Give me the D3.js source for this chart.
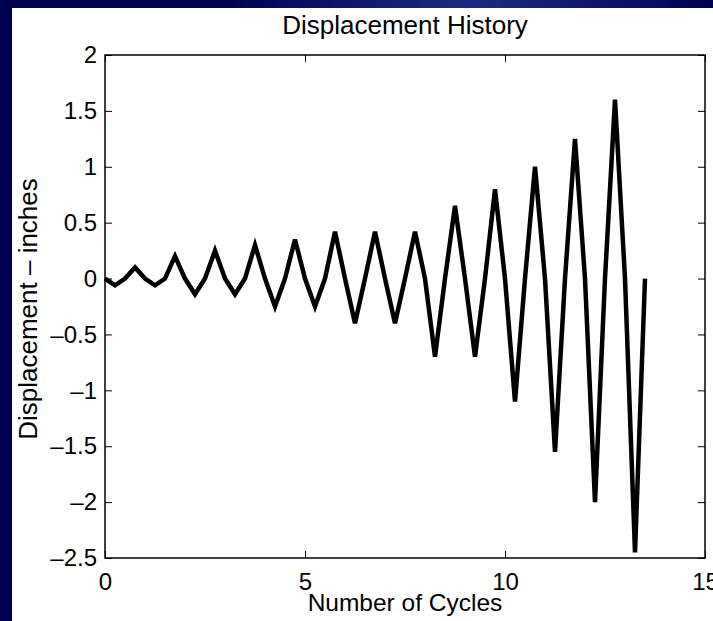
<!DOCTYPE html>
<html>
<head>
<meta charset="utf-8">
<script src="https://cdn.jsdelivr.net/npm/d3@7"></script>
<style>
  body { margin: 0; background: #000050; }
  svg text { font-family: "Liberation Sans", Arial, Helvetica, sans-serif; fill: #000; }
</style>
</head>
<body>
<svg id="chart" width="713" height="621"></svg>
<script>
// data: every quarter cycle
const cycles = [0, 0.25, 0.5, 0.75, 1, 1.25, 1.5, 1.75, 2, 2.25, 2.5, 2.75, 3, 3.25, 3.5, 3.75,
  4, 4.25, 4.5, 4.75, 5, 5.25, 5.5, 5.75, 6, 6.25, 6.5, 6.75, 7, 7.25, 7.5, 7.75,
  8, 8.25, 8.5, 8.75, 9, 9.25, 9.5, 9.75, 10, 10.25, 10.5, 10.75, 11, 11.25, 11.5, 11.75,
  12, 12.25, 12.5, 12.75, 13, 13.25, 13.5]

const displacement = [0, -0.06, 0, 0.1, 0, -0.06, 0, 0.2, 0, -0.14, 0, 0.25, 0, -0.14, 0, 0.3,
  0, -0.25, 0, 0.35, 0, -0.25, 0, 0.42, 0, -0.4, 0, 0.42, 0, -0.4, 0, 0.42,
  0, -0.7, 0, 0.65, 0, -0.7, 0, 0.8, 0, -1.1, 0, 1.0, 0, -1.55, 0, 1.25,
  0, -2.0, 0, 1.6, 0, -2.45, 0]

const xTicks = [0, 5, 10, 15]
const yTicks = [2, 1.5, 1, 0.5, 0, -0.5, -1, -1.5, -2, -2.5]

const svg = d3.select("#chart")

// achtergrond (navy met een beetje glans bovenaan)
const defs = svg.append("defs")
const glow = defs.append("radialGradient").attr("id", "glow")
  .attr("cx", 0.66).attr("cy", 0).attr("r", 0.35)
glow.append("stop").attr("offset", "0%").attr("stop-color", "#1c2c86")
glow.append("stop").attr("offset", "100%").attr("stop-color", "#000050")

svg.append("rect").attr("width", 713).attr("height", 621).attr("fill", "url(#glow)")
svg.append("rect").attr("x", 12).attr("y", 8).attr("width", 701).attr("height", 613).attr("fill", "#fff")

const plotLeft = 105, plotRight = 705, plotTop = 55, plotBottom = 558

const xScale = d3.scaleLinear().domain([0, 15]).range([plotLeft, plotRight])
const yScale = d3.scaleLinear().domain([-2.5, 2]).range([plotBottom, plotTop])

const fmt = (d) => (d < 0 ? "\u2013" : "") + Math.abs(d)

// assen, ticks naar binnen zoals in matlab
const axisLeft = d3.axisLeft(yScale).tickValues(yTicks).tickSizeInner(-7).tickSizeOuter(0)
  .tickPadding(8).tickFormat(fmt)
const axisBottom = d3.axisBottom(xScale).tickValues(xTicks).tickSizeInner(-7).tickSizeOuter(0)
  .tickPadding(15).tickFormat(fmt)
const axisRight = d3.axisRight(yScale).tickValues(yTicks).tickSizeInner(-7).tickSizeOuter(0)
  .tickFormat("")
const axisTop = d3.axisTop(xScale).tickValues(xTicks).tickSizeInner(-7).tickSizeOuter(0)
  .tickFormat("")

function styleAxis(g) {
  g.attr("font-family", null).attr("font-size", 24)
  g.select(".domain").remove()
  g.selectAll(".tick line").attr("stroke", "#000").attr("stroke-width", 1)
}

svg.append("g").attr("transform", `translate(${plotLeft},0)`).call(axisLeft).call(styleAxis)
svg.append("g").attr("transform", `translate(0,${plotBottom})`).call(axisBottom).call(styleAxis)
svg.append("g").attr("transform", `translate(${plotRight},0)`).call(axisRight).call(styleAxis)
svg.append("g").attr("transform", `translate(0,${plotTop})`).call(axisTop).call(styleAxis)

// kader
svg.append("rect")
  .attr("x", plotLeft).attr("y", plotTop)
  .attr("width", plotRight - plotLeft).attr("height", plotBottom - plotTop)
  .attr("fill", "none").attr("stroke", "#000").attr("stroke-width", 1.5)

// de lijn
const line = d3.line()
  .x((d, i) => xScale(cycles[i]))
  .y((d) => yScale(d))

svg.append("path")
  .datum(displacement)
  .attr("d", line)
  .attr("fill", "none")
  .attr("stroke", "#000")
  .attr("stroke-width", 4.5)
  .attr("stroke-linejoin", "miter")
  .attr("stroke-miterlimit", 4)

// titels
svg.append("text")
  .attr("x", (plotLeft + plotRight) / 2).attr("y", 34)
  .attr("text-anchor", "middle").attr("font-size", 26)
  .text("Displacement History")

svg.append("text")
  .attr("x", (plotLeft + plotRight) / 2).attr("y", 611)
  .attr("text-anchor", "middle").attr("font-size", 24.5)
  .text("Number of Cycles")

svg.append("text")
  .attr("transform", "translate(37,309) rotate(-90)")
  .attr("text-anchor", "middle").attr("font-size", 26)
  .text("Displacement \u2013 inches")
</script>
</body>
</html>
